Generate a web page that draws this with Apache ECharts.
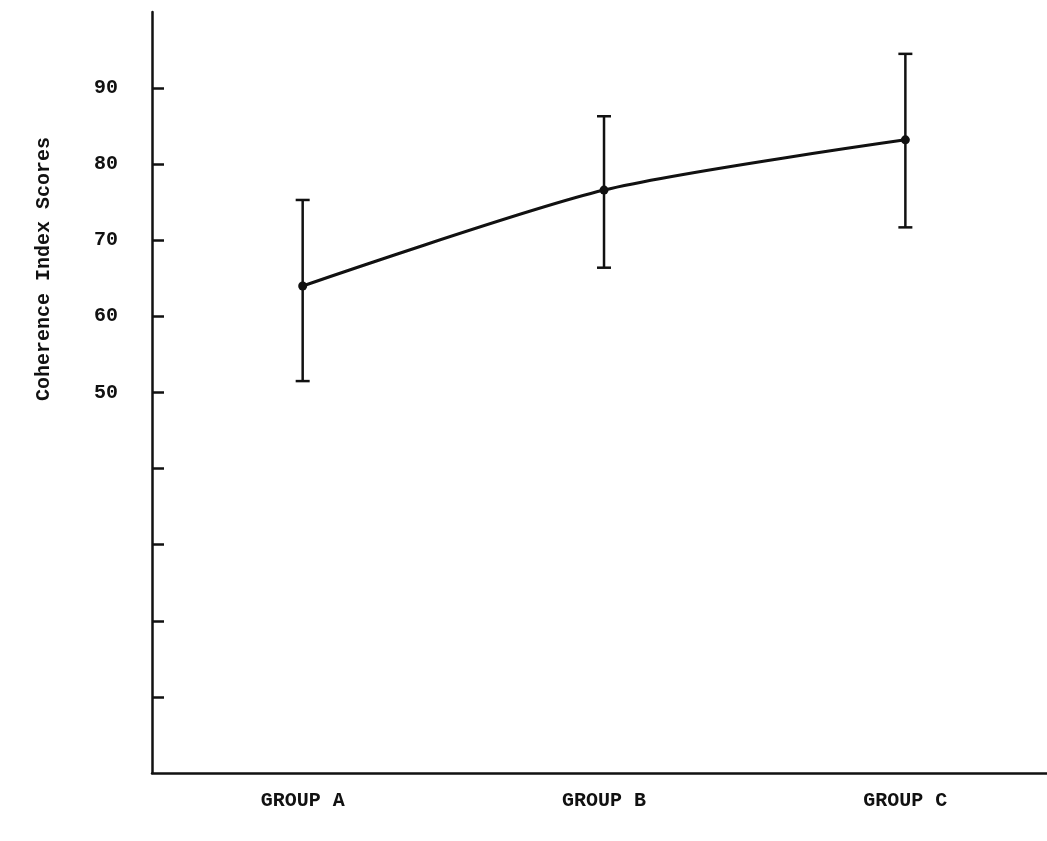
<!DOCTYPE html>
<html>
<head>
<meta charset="utf-8">
<script src="https://cdn.jsdelivr.net/npm/echarts@6/dist/echarts.min.js"></script>
<style>
  html, body { margin: 0; padding: 0; background: #fff; }
  #chart { width: 1047px; height: 841px; }
</style>
</head>
<body>
<div id="chart"></div>
<script>
const categories = ['GROUP A', 'GROUP B', 'GROUP C'];
const means = [64.0, 76.6, 83.2];
const upper = [75.3, 86.3, 94.5];
const lower = [51.5, 66.4, 71.7];
const tickValues = [10, 20, 30, 40, 50, 60, 70, 80, 90];
const labelValues = [50, 60, 70, 80, 90];
const yTitle = 'Coherence Index Scores';

const FONT = "'Liberation Mono', 'DejaVu Sans Mono', monospace";
const INK = '#111';

const lineData = categories.map((c, i) => [i, means[i]]);
const errData = categories.map((c, i) => [i, lower[i], upper[i]]);

const chart = echarts.init(document.getElementById('chart'));
chart.setOption({
  animation: false,
  backgroundColor: '#fff',
  grid: { left: 152, right: 0, top: 12, bottom: 68 },
  graphic: [{
    type: 'text',
    x: 44, y: 269,
    rotation: Math.PI / 2,
    style: {
      text: yTitle,
      font: 'bold 20px ' + FONT,
      fill: INK,
      align: 'center',
      verticalAlign: 'middle'
    }
  }],
  xAxis: {
    type: 'value',
    min: -0.5, max: 2.47,
    axisTick: { show: false },
    axisLine: { show: true, onZero: false, lineStyle: { color: INK, width: 2.5 } },
    axisLabel: {
      color: INK, fontFamily: FONT, fontSize: 20, fontWeight: 'bold', margin: 18,
      customValues: [0, 1, 2],
      formatter: function (v) { return categories[Math.round(v)]; }
    },
    splitLine: { show: false }
  },
  yAxis: {
    type: 'value',
    min: 0, max: 100, interval: 10,
    axisLine: { show: true, onZero: false, lineStyle: { color: INK, width: 2.5 } },
    axisTick: { show: true, inside: true, length: 12, lineStyle: { color: INK, width: 2.5 }, customValues: tickValues },
    axisLabel: { color: INK, fontFamily: FONT, fontSize: 20, fontWeight: 'bold', margin: 34, customValues: labelValues },
    splitLine: { show: false }
  },
  series: [
    {
      type: 'line',
      data: lineData,
      smooth: 0.25,
      symbol: 'circle',
      symbolSize: 9,
      itemStyle: { color: INK },
      lineStyle: { color: INK, width: 3 },
      z: 3
    },
    {
      type: 'custom',
      data: errData,
      encode: { x: 0, y: [1, 2] },
      renderItem: function (params, api) {
        const x = api.value(0);
        const lo = api.coord([x, api.value(1)]);
        const hi = api.coord([x, api.value(2)]);
        const hw = 7;
        const st = { stroke: INK, lineWidth: 2.5 };
        return {
          type: 'group',
          children: [
            { type: 'line', shape: { x1: hi[0], y1: hi[1], x2: lo[0], y2: lo[1] }, style: st },
            { type: 'line', shape: { x1: hi[0] - hw, y1: hi[1], x2: hi[0] + hw, y2: hi[1] }, style: st },
            { type: 'line', shape: { x1: lo[0] - hw, y1: lo[1], x2: lo[0] + hw, y2: lo[1] }, style: st }
          ]
        };
      },
      z: 2
    }
  ]
});
</script>
</body>
</html>
